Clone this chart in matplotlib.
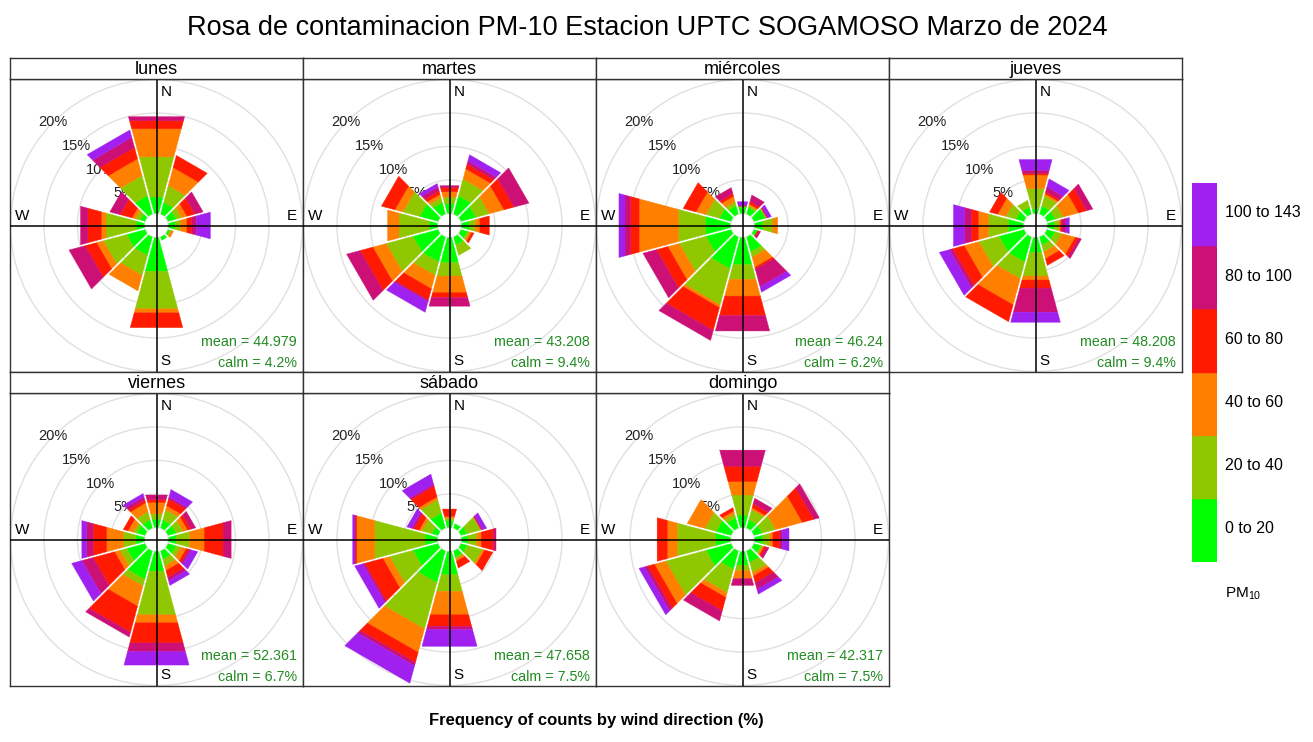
import numpy as np
import matplotlib
matplotlib.use("Agg")
import matplotlib.pyplot as plt
from matplotlib.patches import Polygon, Circle

plt.rcParams['font.family'] = ['Liberation Sans', 'DejaVu Sans']
plt.rcParams['mathtext.default'] = 'regular'

title = "Rosa de contaminacion PM-10 Estacion UPTC SOGAMOSO Marzo de 2024"
xlabel = "Frequency of counts by wind direction (%)"
directions = [0, 30, 60, 90, 120, 150, 180, 210, 240, 270, 300, 330]
bin_labels = ["0 to 20", "20 to 40", "40 to 60", "60 to 80", "80 to 100", "100 to 143"]
bin_colors = ["#00FF00", "#8FC800", "#FF8000", "#FF1A00", "#CD1076", "#A020F0"]
days = ["lunes", "martes", "miércoles", "jueves", "viernes", "sábado", "domingo"]
grid_pcts = [5, 10, 15, 20]

# frequency (%) per direction (rows) and PM10 bin (columns)
lunes = [[2.4, 6.0, 4.2, 1.2, 0.6, 0], [1.7, 2.5, 2.7, 1.8, 0, 0], [1.2, 0.8, 0.8, 1.2, 1.2, 0],
         [0.95, 0.75, 1.0, 0.7, 0.7, 2.1], [0.3, 0.2, 0.3, 0, 0, 0], [0.45, 0, 0, 0, 0, 0],
         [5.0, 5.6, 0.6, 2.2, 0, 0], [2.7, 3.0, 2.3, 0, 0, 0], [2.7, 3.5, 1.0, 1.7, 2.4, 0],
         [1.2, 4.5, 0.7, 2.0, 1.1, 0], [0.7, 0.7, 0.5, 1.8, 1.5, 0], [2.7, 3.0, 2.5, 1.7, 1.5, 1.1]]
martes = [[1.4, 1.0, 0.8, 0.6, 0.3, 0], [2.7, 2.5, 1.5, 0.7, 0.5, 0.9], [2.2, 2.0, 2.2, 1.5, 2.2, 0],
          [1.2, 0.8, 0.7, 1.4, 0, 0], [0.95, 0.3, 0.3, 0.35, 0, 0], [1.2, 1.5, 0, 0, 0, 0],
          [3.7, 2.0, 2.5, 0.7, 1.3, 0], [3.7, 2.0, 2.0, 1.7, 0.2, 1.6], [3.7, 4.0, 2.0, 1.9, 2.0, 0],
          [1.2, 4.5, 1.7, 0, 0, 0], [2.7, 2.5, 1.2, 2.0, 0, 0], [1.7, 0.7, 0.5, 0.5, 0.6, 0.5]]
miercoles = [[0.9, 0.15, 0, 0, 0.15, 0.5], [0.95, 0.3, 0.2, 0.4, 0.95, 0], [1.7, 0.1, 0.1, 0, 0.2, 0.45],
             [1.2, 1.5, 0.7, 0, 0, 0], [0.5, 0, 0, 0.2, 0.25, 0], [2.2, 0.8, 1.5, 0.3, 2.6, 0.8],
             [4.0, 2.2, 2.5, 2.9, 2.3, 0], [4.7, 5.4, 0.4, 3.4, 1.5, 0], [3.7, 4.0, 1.7, 1.7, 2.0, 0],
             [3.7, 4.0, 5.9, 1.3, 0.8, 0.9], [1.7, 2.0, 1.5, 1.9, 0, 0], [1.2, 0.6, 0.8, 0.4, 0.9, 0]]
jueves = [[0.7, 3.0, 2.0, 0.2, 0.5, 1.6], [1.2, 1.5, 0.3, 0.3, 0.7, 1.2], [1.2, 1.2, 2.3, 1.2, 0.9, 0],
          [0.95, 0.75, 0.2, 0.2, 0.6, 0.5], [1.2, 1.0, 2.0, 0.5, 0.4, 0], [1.2, 1.0, 1.0, 1.0, 0, 0],
          [2.2, 3.5, 0.6, 1.2, 3.6, 1.5], [3.7, 2.5, 3.9, 2.5, 0, 0], [3.7, 3.0, 2.2, 1.7, 0.5, 1.5],
          [2.2, 3.0, 1.5, 1.0, 1.0, 1.7], [1.2, 1.5, 1.2, 1.2, 0, 0], [1.0, 1.0, 0, 0, 0, 0]]
viernes = [[1.2, 0.8, 1.7, 0.4, 0.7, 0], [1.2, 1.5, 0.6, 1.0, 0.3, 1.1], [1.2, 1.0, 0.7, 0.5, 0.7, 0],
           [1.1, 2.0, 2.2, 2.8, 1.2, 0], [1.2, 0.7, 0.8, 0.4, 0.3, 1.0], [1.2, 1.0, 0.7, 1.0, 0.5, 0.7],
           [2.9, 6.5, 1.2, 3.0, 1.3, 2.0], [4.2, 1.0, 3.0, 3.9, 0.7, 0], [2.7, 1.0, 0.8, 3.2, 1.7, 1.5],
           [1.3, 1.8, 2.5, 2.0, 1.0, 0.7], [1.2, 0.5, 0.8, 0.7, 0, 0], [1.2, 1.2, 1.3, 0.4, 0.5, 0.5]]
sabado = [[1.0, 0.3, 0.3, 1.1, 0, 0], [0.6, 0, 0, 0, 0, 0], [0.9, 2.0, 0.1, 0, 0.2, 0.6],
          [0.9, 1.3, 0.7, 1.8, 0.4, 0], [0.9, 2.3, 0.3, 1.2, 0, 0], [0.9, 0.3, 0.3, 1.0, 0, 0],
          [3.4, 2.5, 3.5, 1.7, 0.5, 2.5], [4.7, 6.9, 3.5, 1.5, 0.5, 2.6], [3.7, 3.5, 1.0, 2.7, 0.3, 1.2],
          [1.8, 7.5, 2.7, 0.15, 0.25, 0.2], [0.9, 1.5, 0.4, 0.8, 0.3, 0.7], [2.2, 2.0, 0.4, 1.6, 0.3, 1.5]]
domingo = [[1.8, 3.0, 2.0, 2.3, 2.4, 0], [1.2, 1.5, 0.3, 0.6, 0.8, 0], [1.2, 2.0, 4.0, 1.7, 0.8, 0],
           [1.2, 1.0, 0.5, 1.0, 0.4, 1.0], [1.0, 0.3, 0.2, 0.3, 0.4, 0], [1.7, 1.5, 0.5, 1.0, 1.0, 0.7],
           [2.0, 0.8, 1.2, 0, 1.0, 0], [2.7, 3.5, 0.7, 2.0, 1.5, 0], [3.7, 6.0, 1.7, 1.0, 0.5, 0.8],
           [2.2, 5.7, 1.5, 1.5, 0, 0], [2.2, 1.7, 2.6, 0, 0, 0], [1.5, 0.6, 0.4, 0.5, 0, 0]]
means = ["44.979", "43.208", "46.24", "48.208", "52.361", "47.658", "42.317"]
calms = ["4.2", "9.4", "6.2", "9.4", "6.7", "7.5", "7.5"]
day_data = [lunes, martes, miercoles, jueves, viernes, sabado, domingo]

W, H = 1313, 742
fig = plt.figure(figsize=(W / 100, H / 100), dpi=100)

OFF = 1.8      # central hole (in % units)
LIM = 21.87    # half-extent of each panel (in % units)
SECTOR = 30.0
HGAP = 0.16
FRAME = '#333333'


def sector_poly(theta_c, r0, r1):
    a1 = np.radians(theta_c - SECTOR / 2)
    a2 = np.radians(theta_c + SECTOR / 2)
    s = 1 / np.cos(np.radians(SECTOR / 2))
    u1 = np.array([np.sin(a1), np.cos(a1)])
    u2 = np.array([np.sin(a2), np.cos(a2)])
    n1 = np.array([np.cos(a1), -np.sin(a1)])
    n2 = np.array([-np.cos(a2), np.sin(a2)])
    return [r0 * s * u1 + HGAP * n1, r1 * s * u1 + HGAP * n1,
            r1 * s * u2 + HGAP * n2, r0 * s * u2 + HGAP * n2]


col_x = [10, 303, 596, 889]
pw = 293
rows = [(58, 79, 372), (372, 393, 686)]

for i, (day, data) in enumerate(zip(days, day_data)):
    r, c = divmod(i, 4)
    top, sbot, bot = rows[r]
    x0 = col_x[c]
    ax = fig.add_axes([x0 / W, 1 - bot / H, pw / W, (bot - sbot) / H])
    sax = fig.add_axes([x0 / W, 1 - sbot / H, pw / W, (sbot - top) / H])

    ax.set_xlim(-LIM, LIM)
    ax.set_ylim(-LIM, LIM)
    ax.set_xticks([])
    ax.set_yticks([])
    for sp in ax.spines.values():
        sp.set_color(FRAME)
        sp.set_linewidth(1.0)

    for g in [0] + grid_pcts:
        ax.add_patch(Circle((0, 0), OFF + g, fill=False, ec='#E0E0E0', lw=1.0, zorder=1))

    for g in grid_pcts:
        rr = OFF + g
        ax.text(-rr * np.sqrt(0.5), rr * np.sqrt(0.5), f"{g}%", ha='center', va='center',
                fontsize=10.5, color='#222222', zorder=1.5)

    for j, d in enumerate(directions):
        cum = 0.0
        for k, v in enumerate(data[j]):
            if v <= 0:
                continue
            poly = sector_poly(d, OFF + cum, OFF + cum + v)
            ax.add_patch(Polygon(poly, closed=True, fc=bin_colors[k], ec=bin_colors[k],
                                 lw=0.3, zorder=2))
            cum += v

    ax.axhline(0, color='black', lw=1.1, zorder=3)
    ax.axvline(0, color='black', lw=1.1, zorder=3)

    ax.text(0.5 + 4 / pw, 1 - 6 / pw, "N", transform=ax.transAxes, ha='left', va='top', fontsize=11)
    ax.text(0.5 + 4 / pw, 4 / pw, "S", transform=ax.transAxes, ha='left', va='bottom', fontsize=11)
    ax.text(5 / pw, 0.5 + 3 / pw, "W", transform=ax.transAxes, ha='left', va='bottom', fontsize=11)
    ax.text(1 - 6 / pw, 0.5 + 3 / pw, "E", transform=ax.transAxes, ha='right', va='bottom', fontsize=11)

    ax.text(1 - 6 / pw, 26 / pw, f"mean = {means[i]}", transform=ax.transAxes, ha='right',
            va='baseline', fontsize=10.3, color='#228B22', zorder=5)
    ax.text(1 - 6 / pw, 5 / pw, f"calm = {calms[i]}%", transform=ax.transAxes, ha='right',
            va='baseline', fontsize=10.3, color='#228B22', zorder=5)

    sax.set_xticks([])
    sax.set_yticks([])
    for sp in sax.spines.values():
        sp.set_color(FRAME)
        sp.set_linewidth(1.0)
    sax.text(0.5, 0.45, day, transform=sax.transAxes, ha='center', va='center', fontsize=13)

# colour key
cax = fig.add_axes([1192 / W, 1 - 562 / H, 25 / W, 379 / H])
for k, col in enumerate(bin_colors):
    cax.bar(0, 1, bottom=k, width=1, color=col, edgecolor=col, lw=0.3)
cax.set_xlim(-0.5, 0.5)
cax.set_ylim(0, len(bin_colors))
cax.set_xticks([])
cax.yaxis.tick_right()
cax.set_yticks([k + 0.55 for k in range(len(bin_labels))])
cax.set_yticklabels(bin_labels, fontsize=11.5)
cax.tick_params(axis='y', length=0, pad=6)
for sp in cax.spines.values():
    sp.set_visible(False)
fig.text(1225 / W, 1 - 594 / H, "PM$_{10}$", ha='left', va='center', fontsize=11)

fig.text(647 / W, 1 - 28 / H, title, ha='center', va='center', fontsize=19.5)
fig.text(596 / W, 1 - 721 / H, xlabel, ha='center', va='center', fontsize=12, fontweight='bold')

fig.savefig("out.png", dpi=100)
